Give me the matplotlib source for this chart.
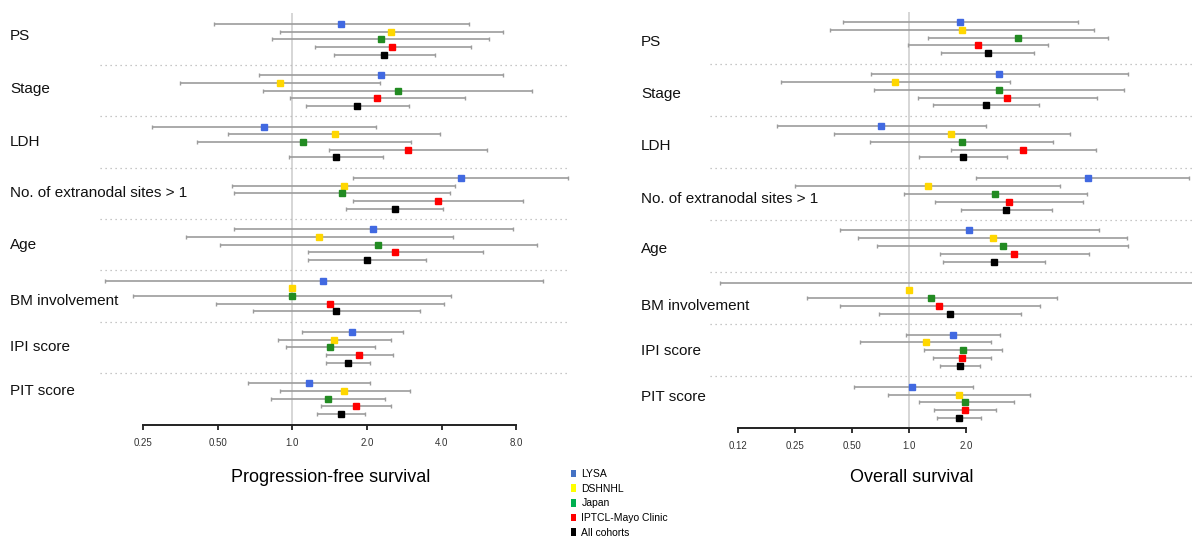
import numpy as np
import matplotlib
matplotlib.use('Agg')
import matplotlib.pyplot as plt
from matplotlib.patches import Patch
from matplotlib.ticker import NullLocator
from matplotlib.transforms import blended_transform_factory

plt.rcParams['font.family'] = ['Liberation Sans', 'DejaVu Sans']

groups = ['PS', 'Stage', 'LDH', 'No. of extranodal sites > 1', 'Age',
          'BM involvement', 'IPI score', 'PIT score']
cohorts = ['LYSA', 'DSHNHL', 'Japan', 'IPTCL-Mayo Clinic', 'All cohorts']

nan = np.nan

# progression-free survival, rows = groups, columns = cohorts
pfs_hr = [[1.57, 2.50, 2.28, 2.53, 2.35],
          [2.27, 0.89, 2.66, 2.20, 1.83],
          [0.77, 1.48, 1.10, 2.94, 1.50],
          [4.79, 1.61, 1.58, 3.88, 2.59],
          [2.12, 1.28, 2.22, 2.60, 1.99],
          [1.33, 1.00, 1.00, 1.42, 1.50],
          [1.74, 1.47, 1.42, 1.86, 1.68],
          [1.17, 1.62, 1.39, 1.80, 1.57]]
pfs_lo = [[0.48, 0.89, 0.83, 1.23, 1.47],
          [0.73, 0.35, 0.76, 0.98, 1.13],
          [0.27, 0.55, 0.41, 1.41, 0.97],
          [1.76, 0.57, 0.58, 1.76, 1.65],
          [0.58, 0.37, 0.51, 1.16, 1.15],
          [0.175, nan, 0.226, 0.49, 0.69],
          [1.09, 0.87, 0.94, 1.36, 1.37],
          [0.66, 0.89, 0.82, 1.30, 1.26]]
pfs_hi = [[5.18, 7.05, 6.23, 5.25, 3.76],
          [7.05, 2.26, 9.28, 4.96, 2.95],
          [2.18, 3.95, 3.00, 6.12, 2.33],
          [13.0, 4.52, 4.32, 8.55, 4.06],
          [7.74, 4.44, 9.75, 5.88, 3.46],
          [10.3, nan, 4.38, 4.08, 3.27],
          [2.79, 2.50, 2.16, 2.55, 2.05],
          [2.06, 2.97, 2.37, 2.50, 1.96]]

# overall survival
os_hr = [[1.85, 1.90, 3.75, 2.31, 2.60],
         [2.98, 0.84, 2.98, 3.27, 2.53],
         [0.71, 1.67, 1.90, 4.00, 1.92],
         [8.77, 1.25, 2.85, 3.34, 3.24],
         [2.07, 2.77, 3.11, 3.58, 2.81],
         [40.0, 1.00, 1.31, 1.44, 1.64],
         [1.71, 1.22, 1.93, 1.89, 1.85],
         [1.04, 1.83, 1.98, 1.96, 1.83]]
os_lo = [[0.45, 0.38, 1.25, 0.99, 1.48],
         [0.63, 0.21, 0.65, 1.11, 1.34],
         [0.20, 0.40, 0.62, 1.67, 1.13],
         [2.26, 0.25, 0.94, 1.37, 1.88],
         [0.43, 0.54, 0.68, 1.46, 1.51],
         [0.10, nan, 0.29, 0.43, 0.69],
         [0.96, 0.55, 1.20, 1.33, 1.46],
         [0.51, 0.77, 1.13, 1.35, 1.40]]
os_hi = [[7.75, 9.44, 11.2, 5.42, 4.55],
         [14.3, 3.38, 13.6, 9.75, 4.85],
         [2.53, 7.04, 5.75, 9.70, 3.28],
         [30.0, 6.21, 8.65, 8.22, 5.64],
         [9.97, 14.1, 14.3, 8.89, 5.20],
         [300., nan, 5.99, 4.89, 3.91],
         [3.02, 2.71, 3.09, 2.71, 2.35],
         [2.16, 4.33, 3.55, 2.87, 2.39]]

pfs_ticks = [0.25, 0.5, 1.0, 2.0, 4.0, 8.0]
pfs_ticklabels = ['0.25', '0.50', '1.0', '2.0', '4.0', '8.0']
os_ticks = [0.125, 0.25, 0.5, 1.0, 2.0]
os_ticklabels = ['0.12', '0.25', '0.50', '1.0', '2.0']

marker_colors = ['#4169e1', '#ffd700', '#228b22', '#ff0000', '#000000']
legend_colors = ['#4472c4', '#ffff00', '#00b050', '#ff0000', '#000000']

W, H = 1192, 542
PITCH = 6.7   # rows between first row of two groups

fig = plt.figure(figsize=(W / 100, H / 100), dpi=100)


def px_axes(x0, x1, y0, y1):
    return fig.add_axes([x0 / W, 1 - y1 / H, (x1 - x0) / W, (y1 - y0) / H])


def row_y(g, i):
    return g * PITCH + i


def forest(ax, hr, lo, hi, xlim, ticks, ticklabels, margin, label_x, label_off):
    hr, lo, hi = np.array(hr), np.array(lo), np.array(hi)
    ax.set_xscale('log', base=2)
    ax.set_xlim(*xlim)
    last = row_y(len(groups) - 1, 4)
    ax.set_ylim(last + margin, -margin)

    ax.axvline(1.0, color='#cfcfcf', lw=1.2, zorder=0)
    for g in range(len(groups) - 1):
        ax.axhline(row_y(g, 4) + (PITCH - 4) / 2, color='#b5b5b5', lw=0.9,
                   ls=(0, (1, 3)), zorder=0)

    for c in range(len(cohorts)):
        y = np.array([row_y(g, c) for g in range(len(groups))])
        x = hr[:, c]
        m = np.isfinite(lo[:, c])
        ax.errorbar(x[m], y[m], xerr=[x[m] - lo[m, c], hi[m, c] - x[m]],
                    fmt='none', ecolor='#9c9c9c', elinewidth=1.2,
                    capsize=1.6, capthick=1.0, zorder=2)
        ax.plot(x, y, 's', color=marker_colors[c], ms=4.8, ls='none', zorder=3)

    trans = blended_transform_factory(fig.transFigure, ax.transData)
    for g, name in enumerate(groups):
        ax.text(label_x / W, row_y(g, label_off[g]), name, transform=trans,
                ha='left', va='center', fontsize=11, color='#111111')

    for s in ['top', 'right', 'left']:
        ax.spines[s].set_visible(False)
    ax.spines['bottom'].set_bounds(ticks[0], ticks[-1])
    ax.spines['bottom'].set_linewidth(1.4)
    ax.spines['bottom'].set_color('#222222')
    ax.set_xticks(ticks)
    ax.set_xticklabels(ticklabels)
    ax.xaxis.set_minor_locator(NullLocator())
    ax.set_yticks([])
    ax.tick_params(axis='x', direction='out', length=3.5, width=1.3,
                   color='#222222', pad=6, labelsize=7, labelcolor='#333333')
    ax.patch.set_visible(False)


ax1 = px_axes(100, 570, 13, 425)
forest(ax1, pfs_hr, pfs_lo, pfs_hi, (0.167, 13.2), pfs_ticks, pfs_ticklabels,
       1.44, 10, [1.5, 1.8, 2.0, 2.0, 2.0, 2.6, 1.9, 1.05])

ax2 = px_axes(710, 1192, 12, 428)
forest(ax2, os_hr, os_lo, os_hi, (0.089, 31.0), os_ticks, os_ticklabels,
       1.3, 641, [2.5, 2.6, 2.5, 2.6, 2.4, 3.0, 2.1, 1.3])

fig.text(331 / W, 1 - 477 / H, 'Progression-free survival', ha='center',
         va='center', fontsize=13)
fig.text(912 / W, 1 - 477 / H, 'Overall survival', ha='center',
         va='center', fontsize=13)

handles = [Patch(facecolor=c, edgecolor='none') for c in legend_colors]
fig.legend(handles, cohorts, loc='upper left',
           bbox_to_anchor=(571 / W, 1 - 469 / H), frameon=False, fontsize=7.5,
           handlelength=0.5, handleheight=0.75, handletextpad=0.5,
           labelspacing=0.45, borderpad=0, borderaxespad=0)

fig.savefig('out.png', dpi=100, facecolor='white')
